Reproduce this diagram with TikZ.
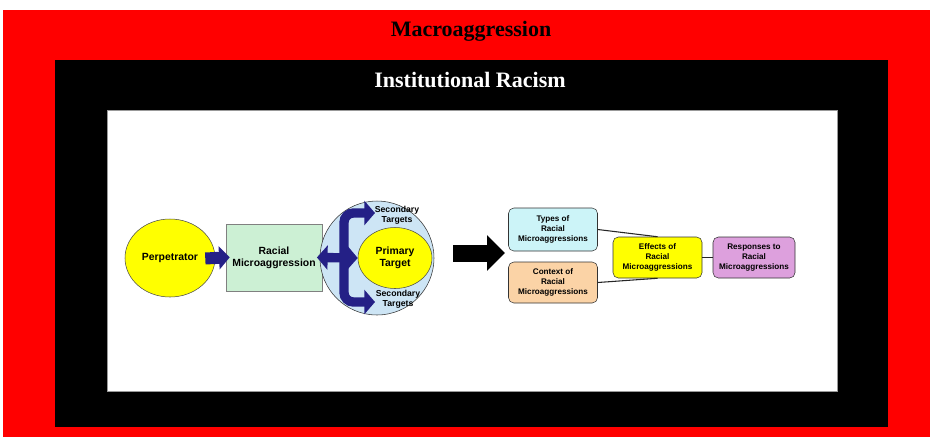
\documentclass[tikz,border=0pt]{standalone}
\usepackage{fontspec}
\setmainfont{Liberation Serif}
\setsansfont{Liberation Sans}
\usepackage{tikz}
\usetikzlibrary{arrows.meta,shapes.geometric,positioning}
\definecolor{mynavy}{RGB}{36,32,134}
\definecolor{mygreen}{RGB}{204,240,212}
\definecolor{mycyan}{RGB}{204,244,248}
\definecolor{mypeach}{RGB}{251,211,166}
\definecolor{myplum}{RGB}{221,160,221}
\definecolor{mysky}{RGB}{205,229,245}
\definecolor{myyellow}{RGB}{255,255,0}
\tikzstyle{title} = [font=\bfseries\fontsize{16.5}{18}\selectfont]
\tikzstyle{lbl} = [font=\sffamily\bfseries\fontsize{7.8}{9}\selectfont, align=center, text=black]
\tikzstyle{small} = [font=\sffamily\bfseries\fontsize{6.1}{7.4}\selectfont, align=center, text=black]
\tikzstyle{stage} = [small, draw=black!80, thin, rounded corners=4pt, minimum width=66.75pt, minimum height=30.75pt, inner sep=1pt]
\tikzstyle{bluearrow} = [mynavy, line width=7pt, {Triangle[width=18pt,length=8pt]}-{Triangle[width=18pt,length=8pt]}]

\begin{document}
\begin{tikzpicture}[x=0.75pt,y=-0.75pt]
          % frames
          \useasboundingbox (0,0) rectangle (930,437);
          \fill[white] (0,0) rectangle (930,437);
          \fill[red] (3,10) rectangle (930,437);
          \fill[black] (55,60) rectangle (888,427);
          \filldraw[fill=white, draw=black!40, line width=0.75pt] (107,110) rectangle (837,391);
          \node[title, text=black] (macro) at (471,31) {Macroaggression};
          \node[title, text=white] (inst) at (470,80) {Institutional Racism};

          % left part
          \node[ellipse, lbl, draw=black!70, fill=myyellow, thin, inner sep=0pt,
                minimum width=67.5pt, minimum height=58.5pt] (perp) at (170,258) {Perpetrator};
          \node[rectangle, lbl, draw=black!50, fill=mygreen, thin,
                minimum width=72pt, minimum height=50.25pt] (racial) at (274,257.5) {Racial\\Microaggression};
          \node[circle, draw=black!80, fill=mysky, thin, minimum size=85.5pt] (ring) at (377,258) {};
          \node[ellipse, lbl, draw=black!70, fill=myyellow, thin, inner sep=0pt,
                minimum width=55.5pt, minimum height=45.75pt] (primary) at (395,258) {Primary\\Target};
          \node[lbl, font=\sffamily\bfseries\fontsize{6.5}{7.2}\selectfont] (sectop) at (397,215) {Secondary\\Targets};
          \node[lbl, font=\sffamily\bfseries\fontsize{6.5}{7.2}\selectfont] (secbot) at (398,299) {Secondary\\Targets};
          \coordinate (tipA) at (375,213);
          \coordinate (tipB) at (375,302);

          \draw[mynavy, line width=9pt, -{Triangle[width=17pt,length=8pt]},
                shorten <=-7.5pt, shorten >=-3pt] (perp.east) -- (racial.west);
          \draw[bluearrow, shorten <=-4pt] (racial.east) -- (primary.west);
          \draw[bluearrow, rounded corners=7pt] (tipA) -- (344,213) -- (344,302) -- (tipB);

          % right part
          \coordinate (bs) at (453,253);
          \coordinate (be) at (505,253);
          \draw[black, line width=12.75pt, -{Triangle[width=26pt,length=13.5pt]}] (bs) -- (be);

          \node[stage, fill=mycyan, minimum height=32.25pt] (types) at (553,229.5) {Types of\\Racial\\Microaggressions};
          \node[stage, fill=mypeach] (context) at (553,282.5) {Context of\\Racial\\Microaggressions};
          \node[stage, fill=myyellow] (effects) at (657.5,257.5) {Effects of\\Racial\\Microaggressions};
          \node[stage, fill=myplum, minimum width=61.5pt] (resp) at (754,257.5) {Responses to\\Racial\\Microaggressions};

          \draw[black!85, thick] (types.east) -- (effects.north);
          \draw[black!85, thick] (context.east) -- (effects.south);
          \draw[black!85, thick] (effects.east) -- (resp.west);
\end{tikzpicture}
\end{document}
